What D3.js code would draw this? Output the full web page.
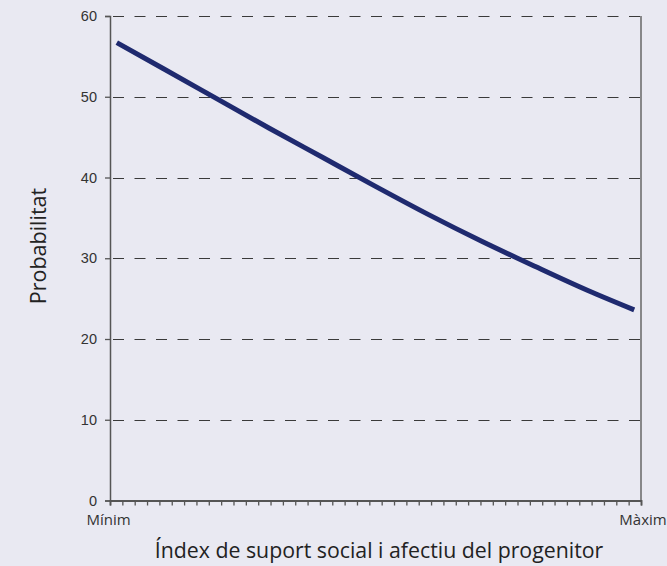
<!DOCTYPE html>
<html>
<head>
<meta charset="utf-8">
<script src="https://cdn.jsdelivr.net/npm/d3@7"></script>
<style>
html,body{margin:0;padding:0;background:#e9e9f2;}
svg{display:block;}
</style>
</head>
<body>
<svg id="chart" width="667" height="566"></svg>
<script>
// Data
const xIndex = [0.55, 4.3, 8.6, 12.9, 17.2, 21.5, 25.8, 30.1, 34.4, 38.7, 42.45];
const probability = [56.7, 53.5, 49.8, 46.1, 42.5, 38.9, 35.4, 32.1, 29.0, 26.0, 23.6];
const yTicks = [0, 10, 20, 30, 40, 50, 60];
const xEndLabels = ["Mínim", "Màxim"];
const xTitle = "Índex de suport social i afectiu del progenitor";
const yTitle = "Probabilitat";

const svg = d3.select("#chart");
const x0 = 110, x1 = 641, yTop = 16, yBot = 500.5;

const x = d3.scaleLinear().domain([0, 43]).range([x0, x1]);
const y = d3.scaleLinear().domain([0, 60]).range([yBot, yTop]);

// grid lines
svg.append("g").selectAll("line").data(yTicks.filter(d => d > 0)).join("line")
  .attr("x1", x0 + 3).attr("x2", x1)
  .attr("y1", d => Math.round(y(d)) + 0.5).attr("y2", d => Math.round(y(d)) + 0.5)
  .attr("stroke", "#3a3a3a").attr("stroke-width", 1.2)
  .attr("stroke-dasharray", "11,10.5");

// right border
svg.append("line").attr("x1", x1).attr("x2", x1).attr("y1", yTop).attr("y2", yBot)
  .attr("stroke", "#666").attr("stroke-width", 1.5);

// y axis
const yAxis = d3.axisLeft(y).tickValues(yTicks).tickSize(5).tickPadding(8).tickFormat(d3.format("d"));
const gy = svg.append("g").attr("transform", `translate(${x0},0)`).call(yAxis);
gy.attr("font-size", null).attr("font-family", null);
gy.select(".domain").attr("stroke", "#555").attr("stroke-width", 1.5);
gy.selectAll(".tick line").attr("stroke", "#555").attr("stroke-width", 1.3);
gy.selectAll(".tick text").attr("font-family", "Liberation Sans, Arial, sans-serif")
  .attr("font-size", 14.5).attr("fill", "#333");

// x axis
const xAxis = d3.axisBottom(x).tickValues(d3.range(0, 44)).tickSize(5).tickFormat("");
const gx = svg.append("g").attr("transform", `translate(0,${yBot})`).call(xAxis);
gx.select(".domain").attr("stroke", "#555").attr("stroke-width", 1.8);
gx.selectAll(".tick line").attr("stroke", "#555").attr("stroke-width", 1.3);

// end labels
svg.append("g").selectAll("text").data(xEndLabels).join("text")
  .attr("x", (d, i) => i === 0 ? x(0) - 1.5 : x(43) + 2)
  .attr("y", 525)
  .attr("text-anchor", "middle")
  .attr("font-family", "Open Sans, Noto Sans, sans-serif")
  .attr("font-size", 15).attr("fill", "#333")
  .text(d => d);

// line
svg.append("path").datum(xIndex.map((d, i) => [d, probability[i]]))
  .attr("fill", "none").attr("stroke", "#1f2a6f").attr("stroke-width", 5)
  .attr("d", d3.line().x(d => x(d[0])).y(d => y(d[1])).curve(d3.curveMonotoneX));

// titles
svg.append("text").attr("x", 379).attr("y", 558).attr("text-anchor", "middle")
  .attr("font-family", "Open Sans, Noto Sans, sans-serif").attr("font-size", 21.3)
  .attr("fill", "#222").text(xTitle);
svg.append("text").attr("transform", "translate(46,246) rotate(-90)").attr("text-anchor", "middle")
  .attr("font-family", "Open Sans, Noto Sans, sans-serif").attr("font-size", 21.5)
  .attr("fill", "#222").text(yTitle);
</script>
</body>
</html>
